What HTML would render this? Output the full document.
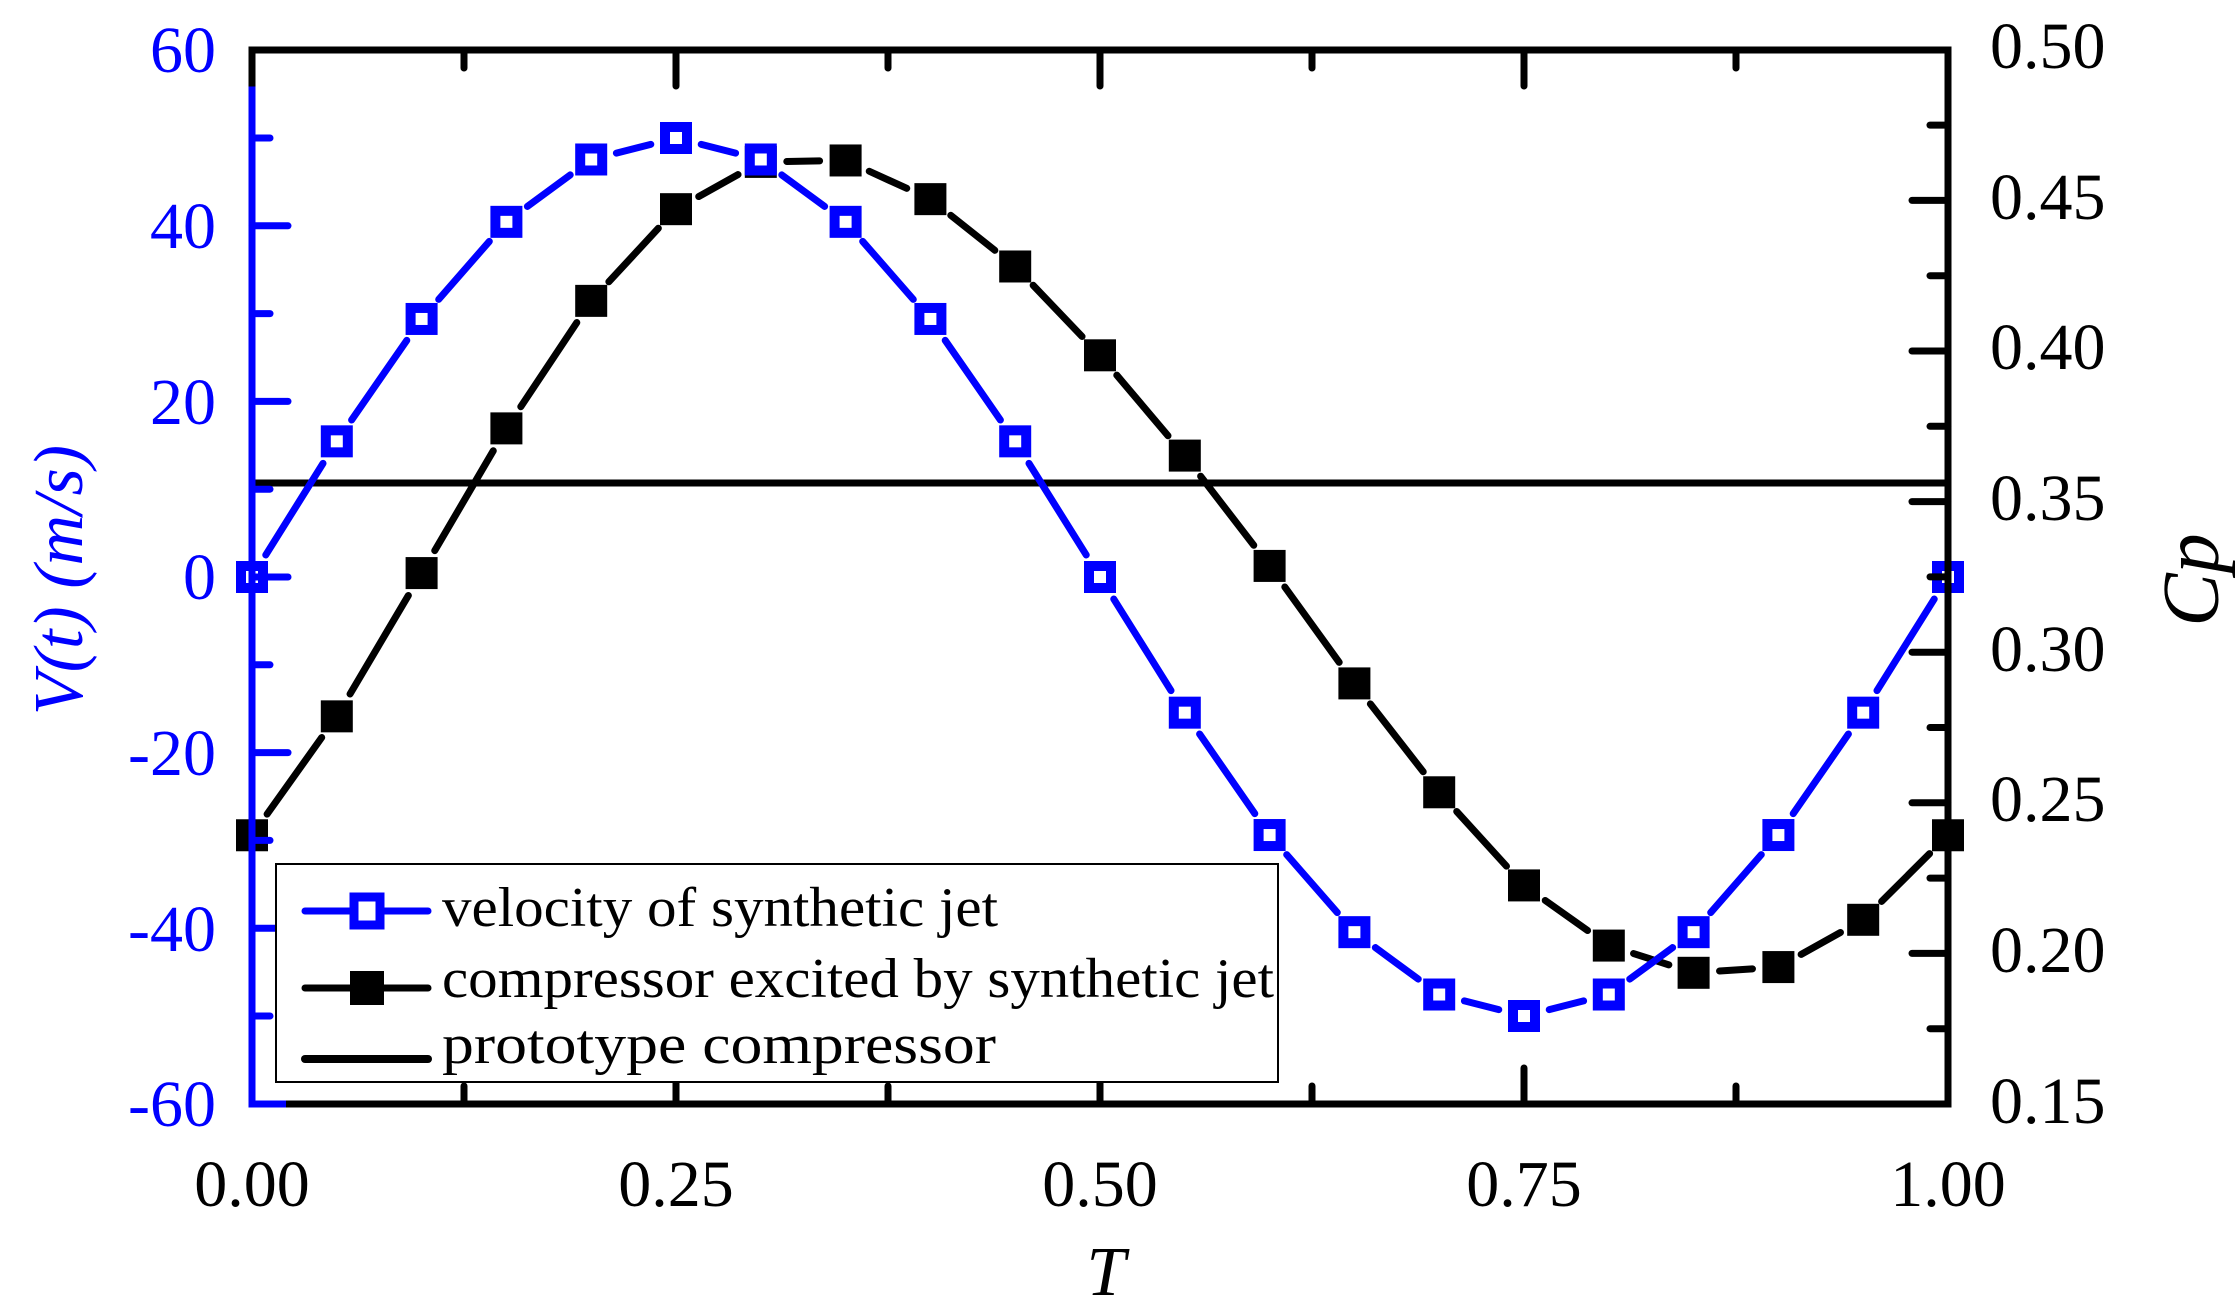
<!DOCTYPE html>
<html><head><meta charset="utf-8"><style>
html,body{margin:0;padding:0;background:#fff;}
svg{display:block;font-family:"Liberation Serif","Times New Roman",serif;}
</style></head><body>
<svg id="s" width="2235" height="1311" viewBox="0 0 2235 1311" xmlns="http://www.w3.org/2000/svg">
<rect width="2235" height="1311" fill="#fff"/>
<g id="plot"></g>
<line x1="252" y1="50" x2="1948" y2="50" stroke="#000" stroke-width="7" stroke-linecap="square"/>
<line x1="1948" y1="50" x2="1948" y2="1104" stroke="#000" stroke-width="7" stroke-linecap="square"/>
<line x1="252" y1="1104" x2="1948" y2="1104" stroke="#000" stroke-width="7" stroke-linecap="square"/>
<line x1="252" y1="50" x2="252" y2="90" stroke="#000" stroke-width="7" stroke-linecap="square"/>
<line x1="252" y1="90" x2="252" y2="1104" stroke="#00f" stroke-width="7" stroke-linecap="square"/>
<line x1="252" y1="1104" x2="286" y2="1104" stroke="#00f" stroke-width="7"/>
<g id="ticks"></g>
<g fill="#00f" font-size="66" text-anchor="end">
<text x="216" y="72">60</text>
<text x="216" y="248">40</text>
<text x="216" y="424">20</text>
<text x="216" y="599">0</text>
<text x="216" y="775">-20</text>
<text x="216" y="951">-40</text>
<text x="216" y="1126">-60</text>
</g>
<g fill="#000" font-size="66" text-anchor="start">
<text x="1990" y="68">0.50</text>
<text x="1990" y="219">0.45</text>
<text x="1990" y="369">0.40</text>
<text x="1990" y="520">0.35</text>
<text x="1990" y="671">0.30</text>
<text x="1990" y="821">0.25</text>
<text x="1990" y="972">0.20</text>
<text x="1990" y="1123">0.15</text>
</g>
<g fill="#000" font-size="66" text-anchor="middle">
<text x="252" y="1206">0.00</text>
<text x="676" y="1206">0.25</text>
<text x="1100" y="1206">0.50</text>
<text x="1524" y="1206">0.75</text>
<text x="1948" y="1206">1.00</text>
</g>
<text x="1106" y="1295" font-size="70" font-style="italic" text-anchor="middle">T</text>
<text transform="translate(2218,580) rotate(-90)" font-size="80" font-style="italic" text-anchor="middle">Cp</text>
<text transform="translate(82,580) rotate(-90)" font-size="70" font-style="italic" fill="#00f" text-anchor="middle">V(t) (m/s)</text>
<rect x="276" y="864" width="1002" height="218" fill="#fff" stroke="#000" stroke-width="2"/>
<line x1="305" y1="911" x2="428" y2="911" stroke="#00f" stroke-width="7" stroke-linecap="round"/>
<rect x="354" y="897" width="26" height="28" fill="#fff" stroke="#00f" stroke-width="9"/>
<line x1="305" y1="988" x2="428" y2="988" stroke="#000" stroke-width="7" stroke-linecap="round"/>
<rect x="350" y="971" width="34" height="34" fill="#000"/>
<line x1="305" y1="1059" x2="428" y2="1059" stroke="#000" stroke-width="8" stroke-linecap="round"/>
<g font-size="56" fill="#000">
<text x="442" y="926" textLength="556" lengthAdjust="spacingAndGlyphs">velocity of synthetic jet</text>
<text x="442" y="997" textLength="832" lengthAdjust="spacingAndGlyphs">compressor excited by synthetic jet</text>
<text x="442" y="1063" textLength="554" lengthAdjust="spacingAndGlyphs">prototype compressor</text>
</g>
</svg>
<script>
var NS="http://www.w3.org/2000/svg";
function el(p,t,a){var e=document.createElementNS(NS,t);for(var k in a)e.setAttribute(k,a[k]);p.appendChild(e);return e;}
var X0=252,X1=1948,Y0=577,VS=8.78;
function X(t){return X0+t*(X1-X0);}
var tk=document.getElementById("ticks");
for(var v=-50;v<=50;v+=10){var y=Y0-v*VS,L=(v%20==0)?36:18;el(tk,"line",{x1:252,y1:y,x2:252+L,y2:y,stroke:"#00f","stroke-width":7,"stroke-linecap":"round"});}
for(var i=1;i<=13;i++){var y=1104-i*75.3,L=(i%2==0)?36:18;el(tk,"line",{x1:1948,y1:y,x2:1948-L,y2:y,stroke:"#000","stroke-width":7,"stroke-linecap":"round"});}
for(var i=1;i<8;i++){var x=X(i*0.125),L=(i%2==0)?36:18;
el(tk,"line",{x1:x,y1:50,x2:x,y2:50+L,stroke:"#000","stroke-width":7,"stroke-linecap":"round"});
el(tk,"line",{x1:x,y1:1104,x2:x,y2:1104-L,stroke:"#000","stroke-width":7,"stroke-linecap":"round"});}
var g=document.getElementById("plot");
el(g,"line",{x1:252,y1:483,x2:1948,y2:483,stroke:"#000","stroke-width":7});
var by=[583,500,400,299,210,146,113,112,139,186,248,318,395,477,553,618,660,679,675,642,583];
var bp=[],vp=[];
for(var i=0;i<=20;i++){var t=i*0.05;bp.push([X(t),by[i]*1.4327]);vp.push([X(t),Y0-50*Math.sin(2*Math.PI*t)*VS]);}
function seg(pts,col){for(var i=0;i<pts.length-1;i++){var a=pts[i],b=pts[i+1],dx=b[0]-a[0],dy=b[1]-a[1],d=Math.hypot(dx,dy),g2=26;if(d<2*g2+4)continue;
el(g,"line",{x1:a[0]+dx/d*g2,y1:a[1]+dy/d*g2,x2:b[0]-dx/d*g2,y2:b[1]-dy/d*g2,stroke:col,"stroke-width":7,"stroke-linecap":"round"});}}
seg(bp,"#000");seg(vp,"#00f");
bp.forEach(function(p){el(g,"rect",{x:p[0]-16,y:p[1]-16,width:32,height:32,fill:"#000"});});
vp.forEach(function(p){el(g,"rect",{x:p[0]-11,y:p[1]-11,width:22,height:22,fill:"#fff",stroke:"#00f","stroke-width":10});});
</script>
</body></html>
